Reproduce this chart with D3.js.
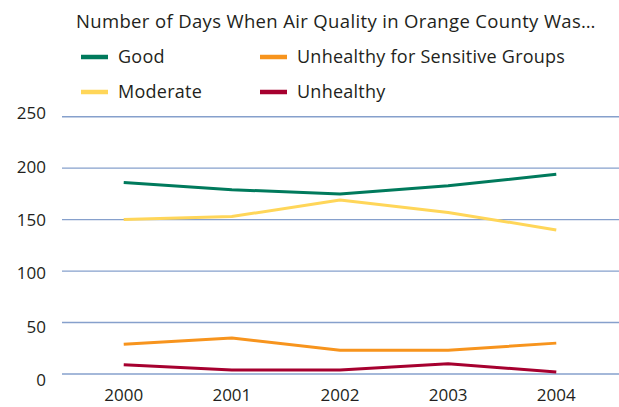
<!DOCTYPE html>
<html>
<head>
<meta charset="utf-8">
<script src="https://cdn.jsdelivr.net/npm/d3@7"></script>
<style>
  html, body { margin: 0; padding: 0; background: #fff; }
  svg { display: block; font-family: "Open Sans", "Noto Sans", sans-serif; }
</style>
</head>
<body>
<svg id="chart" width="619" height="407"></svg>
<script>
// Days per year in each air-quality category, Orange County
const years = ["2000", "2001", "2002", "2003", "2004"];
const good = [186, 179, 175, 183, 194];
const moderate = [150, 153, 169, 157, 140];
const sensitive = [29, 35, 23, 23, 30];
const unhealthy = [9, 4, 4, 10, 2];
const yTicks = [0, 50, 100, 150, 200, 250];
const titleText = "Number of Days When Air Quality in Orange County Was…";

const series = [
  { name: "Good", values: good, color: "#007a5c", col: 0, row: 0 },
  { name: "Unhealthy for Sensitive Groups", values: sensitive, color: "#f7941d", col: 1, row: 0 },
  { name: "Moderate", values: moderate, color: "#ffd659", col: 0, row: 1 },
  { name: "Unhealthy", values: unhealthy, color: "#a6002f", col: 1, row: 1 }
];

const svg = d3.select("#chart");
const textColor = "#231f20";

const x = d3.scalePoint().domain(years).range([61, 619]).padding(0.58);
const y = d3.scaleLinear().domain([0, 250]).range([374, 116.7]);
// tick labels sit on a slightly wider spacing than the gridlines
const yLabel = d3.scaleLinear().domain([0, 250]).range([380, 113.5]);

// horizontal gridlines
svg.append("g")
  .selectAll("line")
  .data(yTicks)
  .join("line")
  .attr("x1", 62).attr("x2", 619)
  .attr("y1", d => y(d)).attr("y2", d => y(d))
  .attr("stroke", "#86a0cc")
  .attr("stroke-width", 1.4);

// y tick labels
svg.append("g")
  .selectAll("text")
  .data(yTicks)
  .join("text")
  .attr("x", 46)
  .attr("y", d => yLabel(d))
  .attr("dy", "0.35em")
  .attr("text-anchor", "end")
  .attr("font-size", 17)
  .attr("fill", textColor)
  .text(d => d);

// x tick labels
svg.append("g")
  .selectAll("text")
  .data(years)
  .join("text")
  .attr("x", d => x(d))
  .attr("y", 395)
  .attr("dy", "0.35em")
  .attr("text-anchor", "middle")
  .attr("font-size", 17)
  .attr("fill", textColor)
  .text(d => d);

// series lines
const line = d3.line()
  .x((d, i) => x(years[i]))
  .y(d => y(d));

svg.append("g")
  .selectAll("path")
  .data(series)
  .join("path")
  .attr("d", s => line(s.values))
  .attr("fill", "none")
  .attr("stroke", s => s.color)
  .attr("stroke-width", 3)
  .attr("stroke-linejoin", "round");

// title
svg.append("text")
  .attr("x", 76)
  .attr("y", 28)
  .attr("font-size", 18.5)
  .attr("letter-spacing", 0.35)
  .attr("fill", textColor)
  .text(titleText);

// legend
const colX = [81, 260];
const rowY = [57, 92];
const legend = svg.append("g")
  .selectAll("g")
  .data(series)
  .join("g")
  .attr("transform", s => `translate(${colX[s.col]},${rowY[s.row]})`);

legend.append("line")
  .attr("x1", 0).attr("x2", 27)
  .attr("y1", 0).attr("y2", 0)
  .attr("stroke", s => s.color)
  .attr("stroke-width", 4.5);

legend.append("text")
  .attr("x", 37)
  .attr("y", 0)
  .attr("dy", "0.35em")
  .attr("font-size", 18)
  .attr("letter-spacing", 0.25)
  .attr("fill", textColor)
  .text(s => s.name);
</script>
</body>
</html>
